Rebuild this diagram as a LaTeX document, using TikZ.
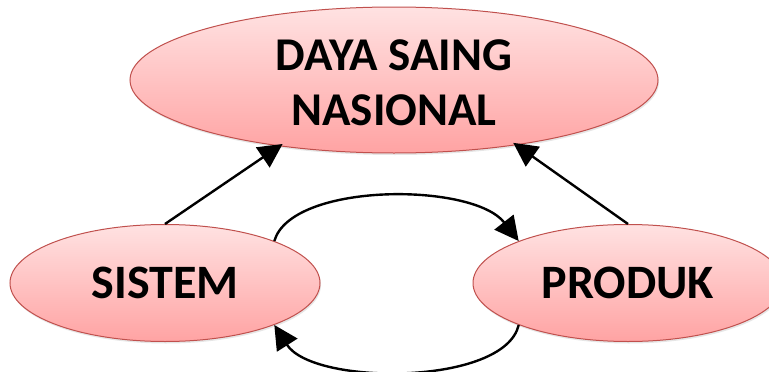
\documentclass[tikz,border=0pt]{standalone}
\usepackage{fontspec}
\setmainfont{Carlito}
\usetikzlibrary{arrows.meta,shapes.geometric,shadows}
\definecolor{edgered}{HTML}{C0504D}
\definecolor{filltop}{HTML}{FFE2E2}
\definecolor{fillbot}{HTML}{FFA3A3}
\tikzset{
  oval/.style={ellipse, draw=edgered, line width=1pt, top color=filltop, bottom color=fillbot,
    inner sep=0pt, font=\bfseries\fontsize{48}{55}\selectfont, align=center,
    drop shadow={opacity=0.2, shadow xshift=1pt, shadow yshift=-2pt}},
  arr/.style={line width=2.4pt, -{Triangle[length=24pt,width=24pt]}}
}
\begin{document}
\begin{tikzpicture}[x=1pt,y=-1pt]
\useasboundingbox (0,0) rectangle (769,372);
\node[oval, minimum width=528pt, minimum height=146pt,
  label={[font=\bfseries\fontsize{47}{55}\selectfont, align=center, yshift=-3pt]center:DAYA SAING\\NASIONAL}]
  (top) at (394,80) {};
\node[oval, minimum width=310pt, minimum height=117pt] (sis) at (165,283) {SISTEM};
\node[oval, minimum width=310pt, minimum height=117pt] (prod) at (628,283) {PRODUK};
\draw[arr, shorten >=-4pt] (sis.north) -- (top.210);
\draw[arr, shorten >=-4pt] (prod.north) -- (top.332);
\draw[arr] (sis.21) .. controls +(17,-59) and +(-46,-59) .. (prod.159);
\draw[arr] (prod.201) .. controls +(-14,61) and +(39,61) .. (sis.339);
\end{tikzpicture}
\end{document}
